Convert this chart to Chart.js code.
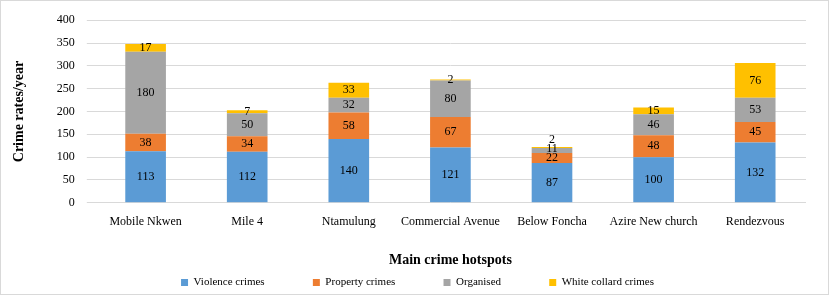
<!DOCTYPE html>
<html>
<head>
<meta charset="utf-8">
<script src="https://cdn.jsdelivr.net/npm/chart.js@4/dist/chart.umd.min.js"></script>
<style>
  html, body { margin: 0; padding: 0; background: #fff; }
  #wrap { width: 827px; height: 293px; border: 1px solid #d9d9d9; }
</style>
</head>
<body>
<div id="wrap"><canvas id="myChart" width="827" height="293"></canvas></div>
<script>
const ctx = document.querySelector('#myChart').getContext('2d');

// Hotspots
const labels = [
    'Mobile Nkwen',
    'Mile 4',
    'Ntamulung',
    'Commercial Avenue',
    'Below Foncha',
    'Azire New church',
    'Rendezvous',
];

// Crime counts per type
const violence = [113, 112, 140, 121, 87, 100, 132];
const property = [38, 34, 58, 67, 22, 48, 45];
const organised = [180, 50, 32, 80, 11, 46, 53];
const whiteCollar = [17, 7, 33, 2, 2, 15, 76];

const yTicks = [0, 50, 100, 150, 200, 250, 300, 350, 400];

const serif = "'Liberation Serif', 'Times New Roman', serif";

// draws the value in the middle of each stacked segment
const segmentLabels = {
    id: 'segmentLabels',
    afterLayout(chart) {
        // legend sits a little right of centre and low in the original
        chart.legend.left += 11;
        chart.legend.right += 11;
        chart.legend.top += 4;
        chart.legend.bottom += 4;
    },
    afterDatasetsDraw(chart) {
        const c = chart.ctx;
        c.save();
        c.font = '12px ' + serif;
        c.fillStyle = '#000';
        c.textAlign = 'center';
        c.textBaseline = 'middle';
        const lastY = {};
        chart.data.datasets.forEach((ds, di) => {
            chart.getDatasetMeta(di).data.forEach((bar, i) => {
                let y = (bar.y + bar.base) / 2;
                if (lastY[i] !== undefined && lastY[i] - y < 9) {
                    y = lastY[i] - 9;
                }
                lastY[i] = y;
                c.fillText(ds.data[i], bar.x, y);
            });
        });
        c.restore();
    },
};

const data = {
    labels,
    datasets: [
        { label: 'Violence crimes', data: violence, backgroundColor: '#5B9BD5' },
        { label: 'Property crimes', data: property, backgroundColor: '#ED7D31' },
        { label: 'Organised', data: organised, backgroundColor: '#A5A5A5' },
        { label: 'White collard crimes', data: whiteCollar, backgroundColor: '#FFC000' },
    ],
};

const config = {
    type: 'bar',
    data: data,
    options: {
        responsive: false,
        animation: false,
        categoryPercentage: 0.8,
        barPercentage: 0.5,
        layout: {
            padding: { top: 0, right: 22, left: 6, bottom: 0 },
        },
        plugins: {
            tooltip: { enabled: false },
            legend: {
                position: 'bottom',
                labels: {
                    boxWidth: 7,
                    boxHeight: 7,
                    padding: 2,
                    color: '#000',
                    font: { family: serif, size: 11 },
                    // wide gaps between items without a tall legend box
                    generateLabels: (chart) => {
                        const items = Chart.defaults.plugins.legend.labels.generateLabels(chart);
                        items.forEach((it, i) => {
                            if (i < items.length - 1) it.text += '\u2003\u2003\u2003\u2002\u2002\u2009';
                        });
                        return items;
                    },
                },
            },
        },
        scales: {
            x: {
                stacked: true,
                grid: { display: false },
                border: { display: false },
                ticks: {
                    color: '#000',
                    padding: 4,
                    maxRotation: 0,
                    autoSkip: false,
                    font: { family: serif, size: 12 },
                },
                title: {
                    display: true,
                    text: 'Main crime hotspots',
                    color: '#000',
                    padding: { top: 19, bottom: 2 },
                    font: { family: serif, size: 14, weight: 'bold' },
                },
            },
            y: {
                stacked: true,
                min: 0,
                max: 400,
                afterBuildTicks: (axis) => {
                    axis.ticks = yTicks.map((v) => ({ value: v }));
                },
                grid: { color: '#D9D9D9' },
                border: { display: false },
                ticks: {
                    color: '#000',
                    padding: 12,
                    autoSkip: false,
                    font: { family: serif, size: 12 },
                },
                title: {
                    display: true,
                    text: 'Crime rates/year',
                    color: '#000',
                    padding: { bottom: 17 },
                    font: { family: serif, size: 14, weight: 'bold' },
                },
            },
        },
    },
    plugins: [segmentLabels],
};

const myChart = new Chart(ctx, config);
</script>
</body>
</html>
